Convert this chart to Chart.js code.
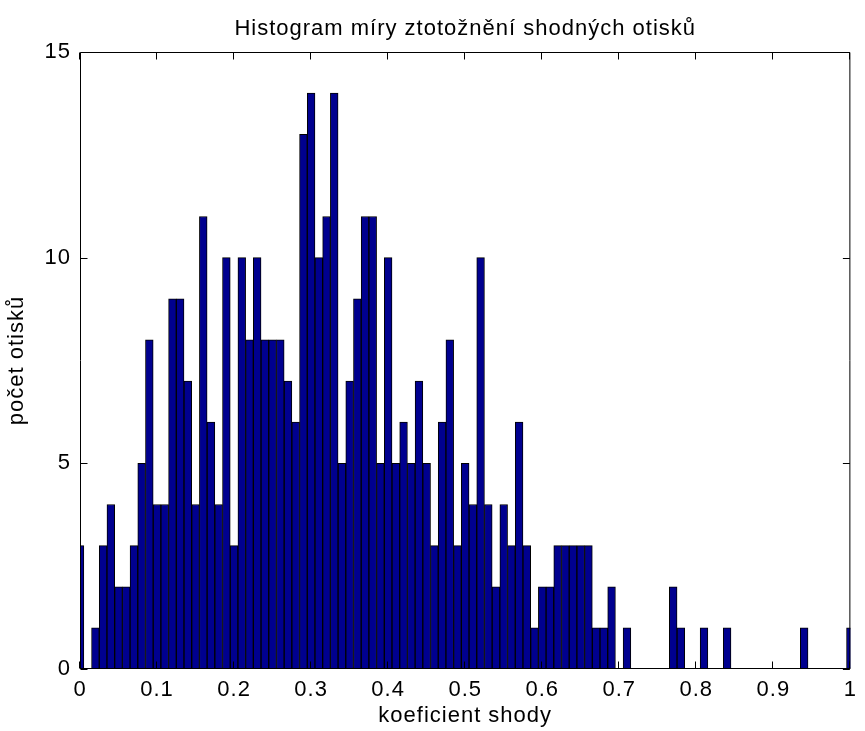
<!DOCTYPE html>
<html>
<head>
<meta charset="utf-8">
<script src="https://cdn.jsdelivr.net/npm/chart.js@4/dist/chart.umd.min.js"></script>
<style>
html,body{margin:0;padding:0;background:#fff;}
#wrap{width:865px;height:731px;}
</style>
</head>
<body>
<div id="wrap"><canvas id="c" width="865" height="731"></canvas></div>
<script>
// bin centres (koeficient shody)
const binCenters = [
  0.00,0.01,0.02,0.03,0.04,0.05,0.06,0.07,0.08,0.09,
  0.10,0.11,0.12,0.13,0.14,0.15,0.16,0.17,0.18,0.19,
  0.20,0.21,0.22,0.23,0.24,0.25,0.26,0.27,0.28,0.29,
  0.30,0.31,0.32,0.33,0.34,0.35,0.36,0.37,0.38,0.39,
  0.40,0.41,0.42,0.43,0.44,0.45,0.46,0.47,0.48,0.49,
  0.50,0.51,0.52,0.53,0.54,0.55,0.56,0.57,0.58,0.59,
  0.60,0.61,0.62,0.63,0.64,0.65,0.66,0.67,0.68,0.69,
  0.70,0.71,0.72,0.73,0.74,0.75,0.76,0.77,0.78,0.79,
  0.80,0.81,0.82,0.83,0.84,0.85,0.86,0.87,0.88,0.89,
  0.90,0.91,0.92,0.93,0.94,0.95,0.96,0.97,0.98,0.99,
  1.00
];
// počet otisků in each bin
const counts = [
  3,0,1,3,4,2,2,3,5,8,
  4,4,9,9,7,4,11,6,4,10,
  3,10,8,10,8,8,8,7,6,13,
  14,10,11,14,5,7,9,11,11,5,
  10,5,6,5,7,5,3,6,8,3,
  5,4,10,4,2,4,3,6,3,1,
  2,2,3,3,3,3,3,1,1,2,
  0,1,0,0,0,0,0,2,1,0,
  0,1,0,0,1,0,0,0,0,0,
  0,0,0,0,1,0,0,0,0,0,
  1
];
const xTickValues = [0,0.1,0.2,0.3,0.4,0.5,0.6,0.7,0.8,0.9,1];
const xTickLabels = ['0','0.1','0.2','0.3','0.4','0.5','0.6','0.7','0.8','0.9','1'];
const yTickValues = [0,5,10,15];
const yTickLabels = ['0','5','10','15'];

const FONT = "'Liberation Sans', Arial, 'DejaVu Sans', sans-serif";
const FS = 22;

const spacingPlugin = {
  id: 'letterSpacing',
  beforeLayout(chart) { chart.ctx.letterSpacing = '1px'; },
  beforeDraw(chart) { chart.ctx.letterSpacing = '1px'; }
};

const framePlugin = {
  id: 'matlabFrame',
  afterDatasetsDraw(chart) {
    const {ctx, chartArea: a, scales: {x, y}} = chart;
    ctx.save();
    ctx.strokeStyle = '#000';
    ctx.lineWidth = 1;
    const L = a.left + 0.5, R = a.right - 0.5, T = a.top + 0.5, B = a.bottom - 0.5;
    ctx.beginPath();
    ctx.rect(L, T, R - L, B - T);
    const tl = 7;
    xTickValues.forEach(v => {
      const px = Math.round(x.getPixelForValue(v)) - 0.5;
      ctx.moveTo(px, B); ctx.lineTo(px, B - tl);
      ctx.moveTo(px, T); ctx.lineTo(px, T + tl);
    });
    yTickValues.forEach(v => {
      const py = Math.round(y.getPixelForValue(v)) + 0.5;
      ctx.moveTo(L, py); ctx.lineTo(L + tl, py);
      ctx.moveTo(R, py); ctx.lineTo(R - tl, py);
    });
    ctx.stroke();
    ctx.restore();
  }
};

new Chart(document.getElementById('c'), {
  type: 'bar',
  data: {
    datasets: [{
      data: binCenters.map((v, i) => ({x: v, y: counts[i]})),
      backgroundColor: '#00008f',
      borderColor: '#000000',
      borderWidth: 1,
      borderSkipped: false,
      barPercentage: 1,
      categoryPercentage: 1,
      clip: 0
    }]
  },
  options: {
    responsive: false,
    animation: false,
    devicePixelRatio: 1,
    layout: {padding: {left: 0, right: 2, top: 0, bottom: 0}},
    plugins: {
      legend: {display: false},
      tooltip: {enabled: false},
      title: {
        display: true,
        fullSize: false,
        text: 'Histogram míry ztotožnění shodných otisků',
        color: '#000',
        font: {family: FONT, size: FS, weight: 'normal', lineHeight: 1.2},
        padding: {top: 16, bottom: 9.6}
      }
    },
    scales: {
      x: {
        type: 'linear',
        min: 0, max: 1,
        offset: false,
        grid: {display: false, drawTicks: false},
        border: {display: false},
        afterBuildTicks: s => { s.ticks = xTickValues.map(v => ({value: v})); },
        afterFit: s => { s.height = 62; },
        ticks: {
          autoSkip: false,
          maxRotation: 0,
          padding: 8,
          color: '#000',
          font: {family: FONT, size: FS},
          callback: (v, i) => xTickLabels[i]
        },
        title: {
          display: true,
          text: 'koeficient shody',
          color: '#000',
          font: {family: FONT, size: FS},
          padding: {top: 0, bottom: 2}
        }
      },
      y: {
        min: 0, max: 15,
        grid: {display: false, drawTicks: false},
        border: {display: false},
        afterBuildTicks: s => { s.ticks = yTickValues.map(v => ({value: v})); },
        afterFit: s => { s.width = 80; },
        ticks: {
          padding: 9,
          color: '#000',
          font: {family: FONT, size: FS},
          callback: (v, i) => yTickLabels[i]
        },
        title: {
          display: true,
          text: 'počet otisků',
          color: '#000',
          font: {family: FONT, size: FS},
          padding: {top: 4, bottom: 0}
        }
      }
    }
  },
  plugins: [spacingPlugin, framePlugin]
});
</script>
</body>
</html>
